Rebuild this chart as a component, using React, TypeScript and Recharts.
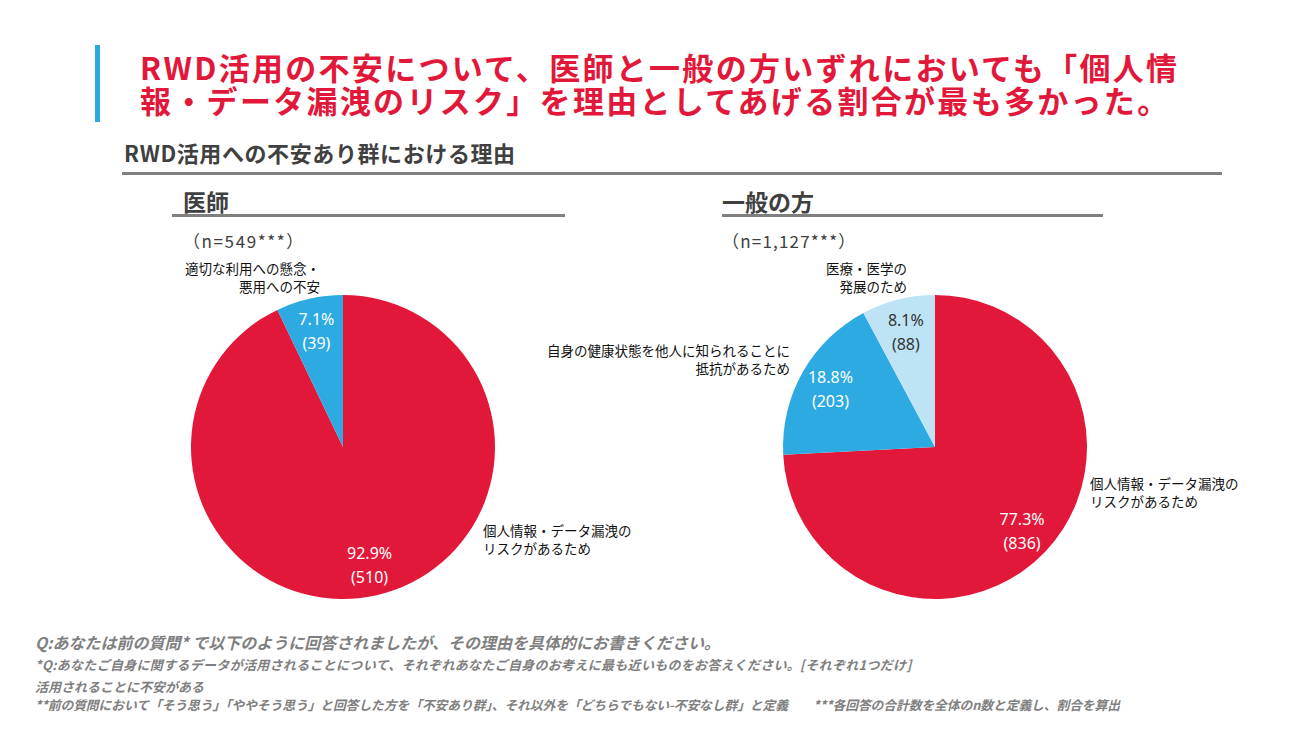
import React from "react";
import { PieChart, Pie, Cell } from "recharts";

// 医師
const doctorNames = ["個人情報・データ漏洩のリスクがあるため", "適切な利用への懸念・悪用への不安"];
const doctorCounts = [510, 39];
const doctorPcts = ["92.9%", "7.1%"];

// 一般の方
const publicNames = [
  "個人情報・データ漏洩のリスクがあるため",
  "自身の健康状態を他人に知られることに抵抗があるため",
  "医療・医学の発展のため",
];
const publicCounts = [836, 203, 88];
const publicPcts = ["77.3%", "18.8%", "8.1%"];

const doctorColors = ["#E2183A", "#2DAAE1"];
const publicColors = ["#E2183A", "#2DAAE1", "#BEE3F5"];

const doctorData = doctorNames.map((name, i) => ({
  name,
  value: doctorCounts[i],
  pct: doctorPcts[i],
}));
const publicData = publicNames.map((name, i) => ({
  name,
  value: publicCounts[i],
  pct: publicPcts[i],
}));

const RADIAN = Math.PI / 180;
const JP = "'Noto Sans CJK JP', 'Noto Sans', sans-serif";

const InsideLabel = (props: any) => {
  const { cx, cy, midAngle, outerRadius, payload, index } = props;
  const r = outerRadius * 0.79;
  const x = cx + r * Math.cos(-midAngle * RADIAN);
  const y = cy + r * Math.sin(-midAngle * RADIAN);
  const fill = payload.name === "医療・医学の発展のため" ? "#333" : "#fff";
  return (
    <g key={`lbl-${index}`}>
      <text x={x} y={y - 11} fill={fill} textAnchor="middle" dominantBaseline="central" fontSize={16} fontFamily="'Noto Sans', sans-serif">
        {payload.pct}
      </text>
      <text x={x} y={y + 13} fill={fill} textAnchor="middle" dominantBaseline="central" fontSize={16} fontFamily="'Noto Sans', sans-serif">
        {`(${payload.value})`}
      </text>
    </g>
  );
};

const abs = (left: number, top: number, extra: React.CSSProperties = {}): React.CSSProperties => ({
  position: "absolute",
  left,
  top,
  whiteSpace: "nowrap",
  fontFamily: JP,
  ...extra,
});

const catStyle: React.CSSProperties = { fontSize: 13.5, color: "#111", lineHeight: "18px" };
const noteStyle: React.CSSProperties = {
  fontSize: 13,
  color: "#7f7f7f",
  fontStyle: "italic",
  fontWeight: 700,
  lineHeight: "16px",
};
const titleStyle: React.CSSProperties = {
  color: "#E2183A",
  fontSize: 31,
  fontWeight: 700,
  lineHeight: "32px",
  letterSpacing: 2.3,
};

export default function App() {
  return (
    <div style={{ position: "absolute", left: 0, top: 0, width: 1306, height: 737, background: "#fff", overflow: "hidden" }}>
      {/* header */}
      <div style={{ position: "absolute", left: 95, top: 45, width: 5, height: 77, background: "#29ABE2" }} />
      <div style={abs(140, 51, titleStyle)}>
        RWD活用の不安について、医師と一般の方いずれにおいても「個人情
      </div>
      <div style={abs(140, 84, titleStyle)}>
        報・データ漏洩のリスク」を理由としてあげる割合が最も多かった。
      </div>
      <div style={abs(124, 136, { fontSize: 22, fontWeight: 700, color: "#404040", letterSpacing: 0.6 })}>
        RWD活用への不安あり群における理由
      </div>
      <div style={{ position: "absolute", left: 122, top: 172, width: 1100, height: 3, background: "#808080" }} />

      <div style={abs(183, 184, { fontSize: 23, fontWeight: 700, color: "#404040" })}>医師</div>
      <div style={{ position: "absolute", left: 172, top: 214, width: 393, height: 3, background: "#808080" }} />
      <div style={abs(183, 228, { fontSize: 17, color: "#404040", letterSpacing: 1.6 })}>（n=549***）</div>

      <div style={abs(722, 184, { fontSize: 23, fontWeight: 700, color: "#404040" })}>一般の方</div>
      <div style={{ position: "absolute", left: 722, top: 214, width: 381, height: 3, background: "#808080" }} />
      <div style={abs(722, 228, { fontSize: 17, color: "#404040", letterSpacing: 1.2 })}>（n=1,127***）</div>

      <div style={{ position: "absolute", left: 0, top: 0 }}>
        <PieChart width={1306} height={737} margin={{ top: 0, right: 0, bottom: 0, left: 0 }}>
          <Pie
            data={doctorData}
            dataKey="value"
            cx={343}
            cy={447}
            outerRadius={152}
            startAngle={90}
            endAngle={-270}
            stroke="none"
            label={InsideLabel}
            labelLine={false}
            isAnimationActive={false}
          >
            {doctorData.map((d, i) => (
              <Cell key={d.name} fill={doctorColors[i]} />
            ))}
          </Pie>
          <Pie
            data={publicData}
            dataKey="value"
            cx={935}
            cy={447}
            outerRadius={152}
            startAngle={90}
            endAngle={-270}
            stroke="none"
            label={InsideLabel}
            labelLine={false}
            isAnimationActive={false}
          >
            {publicData.map((d, i) => (
              <Cell key={d.name} fill={publicColors[i]} />
            ))}
          </Pie>
        </PieChart>
      </div>

      {/* category labels */}
      <div style={abs(185, 259, { ...catStyle, textAlign: "right" })}>
        適切な利用への懸念・
        <br />
        悪用への不安
      </div>
      <div style={abs(483, 521, catStyle)}>
        個人情報・データ漏洩の
        <br />
        リスクがあるため
      </div>
      <div style={abs(826, 259, { ...catStyle, textAlign: "right" })}>
        医療・医学の
        <br />
        発展のため
      </div>
      <div style={abs(547, 341, { ...catStyle, textAlign: "right" })}>
        自身の健康状態を他人に知られることに
        <br />
        抵抗があるため
      </div>
      <div style={abs(1090, 474, catStyle)}>
        個人情報・データ漏洩の
        <br />
        リスクがあるため
      </div>

      {/* footnotes */}
      <div style={abs(35, 632, { ...noteStyle, fontSize: 16, lineHeight: "20px" })}>
        Q:あなたは前の質問* で以下のように回答されましたが、その理由を具体的にお書きください。
      </div>
      <div style={abs(35, 657, { ...noteStyle, letterSpacing: 0.3 })}>
        *Q:あなたご自身に関するデータが活用されることについて、それぞれあなたご自身のお考えに最も近いものをお答えください。[それぞれ1つだけ]
      </div>
      <div style={abs(35, 679, noteStyle)}>活用されることに不安がある</div>
      <div style={abs(35, 697, { ...noteStyle, fontSize: 12.8, letterSpacing: -0.1 })}>
        **前の質問において「そう思う」「ややそう思う」と回答した方を「不安あり群」、それ以外を「どちらでもない-不安なし群」と定義　　***各回答の合計数を全体のn数と定義し、割合を算出
      </div>
    </div>
  );
}
